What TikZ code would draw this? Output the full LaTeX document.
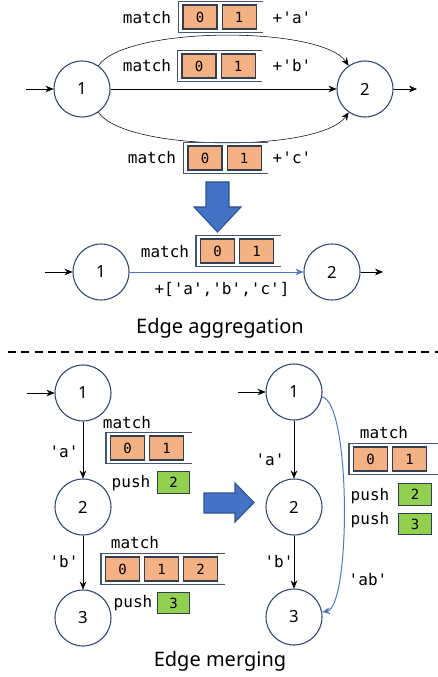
\documentclass[tikz,border=0pt]{standalone}
\usepackage{fontspec}
\setmainfont{Noto Sans}
\setmonofont{DejaVu Sans Mono}
\usetikzlibrary{arrows.meta,positioning}
\definecolor{statecol}{HTML}{2F4470}
\definecolor{cellfill}{HTML}{F4B183}
\definecolor{cellline}{HTML}{333F50}
\definecolor{pushfill}{HTML}{92D050}
\definecolor{framecol}{HTML}{44546A}
\definecolor{arrowfill}{HTML}{4472C4}
\definecolor{arrowline}{HTML}{2F528F}
\definecolor{bluecol}{HTML}{4A78C8}

\begin{document}
\begin{tikzpicture}[x=0.75pt,y=-0.75pt,>={Stealth[length=6pt,width=5pt]},
  state/.style={circle,draw=statecol,line width=0.8pt,fill=white,
    minimum size=42pt,inner sep=0pt,font=\fontsize{12.5}{14}\selectfont},
  cell/.style={draw=cellline,line width=0.8pt,fill=cellfill,
    minimum width=25.5pt,minimum height=18pt,inner sep=0pt,
    font=\ttfamily\fontsize{10.5}{12}\selectfont},
  pcell/.style={cell,fill=pushfill,minimum width=24.5pt,minimum height=16pt},
  frame/.style={draw=framecol,line width=0.8pt},
  code/.style={font=\ttfamily\fontsize{12}{14}\selectfont,inner sep=1pt},
  caption/.style={font=\fontsize{15}{18}\selectfont},
  bigarrow/.style={fill=arrowfill,draw=arrowline,line width=0.8pt},
  blueline/.style={draw=bluecol,line width=0.75pt}]
\useasboundingbox (0,0) rectangle (438,677);

% Edge aggregation, before
\node[state] (a1) at (82,89) {1};
\node[state] (a2) at (365,89) {2};
\coordinate (a1in) at (26,89);
\coordinate (a2out) at (417,89);
\draw[->] (a1in) -- (a1);
\draw[->] (a2) -- (a2out);
\draw[->] (a1) to[out=55,in=125,looseness=0.5] (a2);
\draw[->] (a1) -- (a2);
\draw[->] (a1) to[out=-55,in=-125,looseness=0.5] (a2);

\node[code] (ma) at (147,18) {match};
\node[cell] (ta0) at (200,17) {0};
\node[cell,right=3pt of ta0] (ta1) {1};
\draw[frame] ([xshift=5pt,yshift=2.5pt]ta1.north east) -- ([xshift=-3pt,yshift=2.5pt]ta0.north west)
  -- ([xshift=-3pt,yshift=-2.5pt]ta0.south west) -- ([xshift=5pt,yshift=-2.5pt]ta1.south east);
\node[code] (pa) at (292,18) {+'a'};

\node[code] (mb) at (147,66) {match};
\node[cell] (tb0) at (199,66) {0};
\node[cell,right=3pt of tb0] (tb1) {1};
\draw[frame] ([xshift=5pt,yshift=2.5pt]tb1.north east) -- ([xshift=-3pt,yshift=2.5pt]tb0.north west)
  -- ([xshift=-3pt,yshift=-2.5pt]tb0.south west) -- ([xshift=5pt,yshift=-2.5pt]tb1.south east);
\node[code] (pb) at (292,66) {+'b'};

\node[code] (mc) at (152,158) {match};
\node[cell] (tc0) at (205,158) {0};
\node[cell,right=3pt of tc0] (tc1) {1};
\draw[frame] ([xshift=5pt,yshift=2.5pt]tc1.north east) -- ([xshift=-3pt,yshift=2.5pt]tc0.north west)
  -- ([xshift=-3pt,yshift=-2.5pt]tc0.south west) -- ([xshift=5pt,yshift=-2.5pt]tc1.south east);
\node[code] (pc) at (292,158) {+'c'};

\draw[bigarrow] (206,182) -- (229,182) -- (229,207) -- (241,207) -- (217.5,232)
  -- (194,207) -- (206,207) -- cycle;

% Edge aggregation, after
\node[state] (b1) at (101,272) {1};
\node[state] (b2) at (332,272) {2};
\coordinate (b1in) at (45,272);
\coordinate (b2out) at (383,272);
\draw[->] (b1in) -- (b1);
\draw[->] (b2) -- (b2out);
\draw[->,blueline] (b1) -- (b2);
\node[code] (md) at (165,252) {match};
\node[cell] (td0) at (217.5,251) {0};
\node[cell,right=3pt of td0] (td1) {1};
\draw[frame] ([xshift=5pt,yshift=2.5pt]td1.north east) -- ([xshift=-3pt,yshift=2.5pt]td0.north west)
  -- ([xshift=-3pt,yshift=-2.5pt]td0.south west) -- ([xshift=5pt,yshift=-2.5pt]td1.south east);
\node[code] (pd) at (222,290) {+['a','b','c']};
\node[caption] (capa) at (220,328) {Edge aggregation};

\draw[line width=1pt,dash pattern=on 6pt off 4pt] (8,352) -- (438,352);

% Edge merging, before
\node[state] (c1) at (83,393) {1};
\node[state] (c2) at (83,507) {2};
\node[state] (c3) at (83,618) {3};
\coordinate (c1in) at (27,393);
\draw[->] (c1in) -- (c1);
\draw[->] (c1) -- (c2);
\draw[->] (c2) -- (c3);
\node[code] (la) at (64,452) {'a'};
\node[code] (lb) at (64,562) {'b'};

\node[code] (me) at (127,423) {match};
\node[cell] (te0) at (127.5,448) {0};
\node[cell,right=3pt of te0] (te1) {1};
\draw[frame] ([xshift=6pt,yshift=2.5pt]te1.north east) -- ([xshift=-3pt,yshift=2.5pt]te0.north west)
  -- ([xshift=-3pt,yshift=-2.5pt]te0.south west) -- ([xshift=6pt,yshift=-2.5pt]te1.south east);
\node[code] (ue) at (131,483) {push};
\node[pcell] (pe) at (173.5,482.5) {2};

\node[code] (mf) at (135,543) {match};
\node[cell] (tf0) at (122.5,569) {0};
\node[cell,right=3pt of tf0] (tf1) {1};
\node[cell,right=3pt of tf1] (tf2) {2};
\draw[frame] ([xshift=5pt,yshift=2.5pt]tf2.north east) -- ([xshift=-3pt,yshift=2.5pt]tf0.north west)
  -- ([xshift=-3pt,yshift=-2.5pt]tf0.south west) -- ([xshift=5pt,yshift=-2.5pt]tf2.south east);
\node[code] (uf) at (133,603) {push};
\node[pcell] (pf) at (173.5,603) {3};

\draw[bigarrow] (204,493) -- (235,493) -- (235,483) -- (254,502.5) -- (235,522)
  -- (235,513) -- (204,513) -- cycle;

% Edge merging, after
\node[state] (r1) at (294,392) {1};
\node[state] (r2) at (294,507) {2};
\node[state] (r3) at (294,617) {3};
\coordinate (r1in) at (238,392);
\draw[->] (r1in) -- (r1);
\draw[->] (r1) -- (r2);
\draw[->] (r2) -- (r3);
\node[code] (lra) at (270,460) {'a'};
\node[code] (lrb) at (279,562) {'b'};
\draw[->,blueline] (r1) to[out=-10,in=10,looseness=0.35] (r3);
\node[code] (lab) at (368,580) {'ab'};

\node[code] (mg) at (384,433) {match};
\node[cell] (tg0) at (370.5,459) {0};
\node[cell,right=3pt of tg0] (tg1) {1};
\draw[frame] ([xshift=12pt,yshift=2.5pt]tg1.north east) -- ([xshift=-3pt,yshift=2.5pt]tg0.north west)
  -- ([xshift=-3pt,yshift=-2.5pt]tg0.south west) -- ([xshift=12pt,yshift=-2.5pt]tg1.south east);
\node[code] (ug) at (370,496) {push};
\node[pcell] (pg) at (415,494.5) {2};
\node[code] (uh) at (370,520) {push};
\node[pcell] (ph) at (415,524) {3};

\node[caption] (capm) at (220,661) {Edge merging};
\end{tikzpicture}
\end{document}
